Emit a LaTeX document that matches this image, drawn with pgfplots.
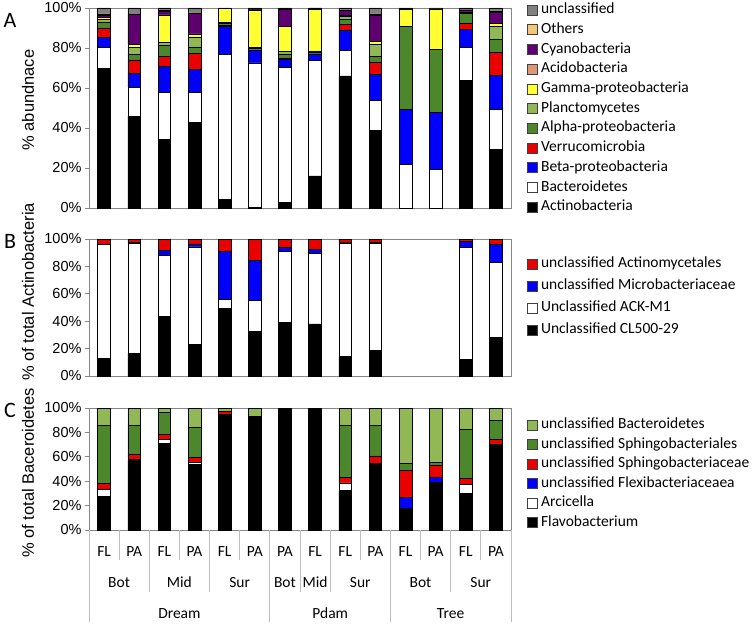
\documentclass[border=0pt]{standalone}
\usepackage{fontspec}
\setmainfont{Carlito}
\newfontfamily\arial{Liberation Sans}
\usepackage{pgfplots}
\pgfplotsset{compat=1.18}
\usepackage{pgfplotstable}

\definecolor{axgray}{RGB}{134,134,134}
\definecolor{sepgray}{RGB}{190,190,190}
\definecolor{cAct}{RGB}{0,0,0}
\definecolor{cBac}{RGB}{255,255,255}
\definecolor{cBeta}{RGB}{0,0,255}
\definecolor{cVer}{RGB}{235,0,0}
\definecolor{cAlp}{RGB}{77,135,43}
\definecolor{cPla}{RGB}{146,184,86}
\definecolor{cGam}{RGB}{255,255,51}
\definecolor{cAci}{RGB}{222,150,120}
\definecolor{cCya}{RGB}{96,0,112}
\definecolor{cOth}{RGB}{242,200,120}
\definecolor{cUnc}{RGB}{128,128,128}

\pgfplotstableread{
x Act Bac Beta Ver Alp Pla Gam Aci Cya Oth Unc
0 70 10.2 5 4.8 3 1.4 0.8 0.3 1 0.5 3
1 46 14.5 6.9 6.7 2.8 3.4 1.6 0 14.8 0 3.3
2 34.4 23.6 12.9 4.9 5.5 1.5 13.7 0 2 0.3 1.2
3 43 14.7 11.5 8.2 3.2 4.9 1.5 0 10.2 0.3 2.5
4 4.2 72.7 13.9 0.3 1.3 0.5 7 0 0 0 0.1
5 0.3 72.3 6.2 0 1.2 0.5 18.5 0 0.5 0 0.5
6 2.8 67.4 4.4 0.5 2 1.2 12.4 0 8.7 0 0.6
7 16.1 57.6 3.4 0 1 0.5 20.7 0 0.7 0 0
8 66.1 12.7 10.2 2.6 2.5 1.7 0.3 0 2.6 0 1.3
9 38.8 14.9 13.2 6.2 2.7 6.1 1.4 0 13.2 0.5 3
10 0 21.7 27.8 0 41.3 0 8.4 0 0.5 0 0.3
11 0 19.4 28.4 0 31.5 0 20.2 0 0.3 0 0.2
12 63.7 16.6 9 3 4.9 0.8 0 0 1 0 1
13 29.4 20.1 16.9 11.5 6.4 6.5 1.3 0 5.6 0.5 1.8
}\tabA

\pgfplotstableread{
x CL ACK Mic Actm
0 12.9 83 0.5 3.6
1 16.5 80.3 0.5 2.7
2 43.6 44.5 3.4 8.5
3 23.1 71.1 2.2 3.6
4 49.6 6.6 34.6 9.2
5 32.6 22.4 29.4 15.6
6 39.2 52 2.5 6.3
7 38.0 51.3 3.4 7.3
8 14.1 83 0.5 2.4
9 18.7 77.9 1.2 2.2
10 0 0 0 0
11 0 0 0 0
12 12.4 81.3 4.4 1.9
13 28.0 54.7 13.4 3.9
}\tabB

\pgfplotstableread{
x Flavo Arc Flex Sphc Sphl UnB
0 27.7 5.7 0.3 4.4 47.4 14.5
1 57.5 0.5 0 4.2 23.8 14
2 70.7 3.8 0 3.9 18.3 3.3
3 54.0 1.6 0 4.1 24.4 15.9
4 93.7 0.8 0 2.5 0.5 2.5
5 93.2 0 0 0 0 6.8
6 100 0 0 0 0 0
7 100 0 0 0 0 0
8 32.3 6.3 0 4.7 42.5 14.2
9 54.8 0 0 6 25 14.2
10 17.8 0 9 22 6 45.2
11 39.2 0 4.4 9.8 1.7 44.9
12 30.1 7.4 0 5 40.2 17.3
13 69.9 0 0 4.3 15.4 10.4
}\tabC

\pgfplotsset{
  panel/.style={
    scale only axis, width=422pt, anchor=south west,
    ybar stacked, bar width=12.7pt,
    xmin=-0.5, xmax=13.5, ymin=0, ymax=100,
    xtick=\empty, ytick={0,20,40,60,80,100},
    yticklabels={0\%,20\%,40\%,60\%,80\%,100\%},
    yticklabel style={font=\arial\fontsize{14.5}{16}\selectfont},
    tick align=outside, major tick length=4pt,
    axis line style={draw=axgray, line width=0.8pt},
    every tick/.style={draw=axgray, line width=0.8pt},
    ytick pos=left,
    legend style={draw=none, fill=none, inner sep=0pt, outer sep=0pt,
      anchor=north west, font=\fontsize{15.5}{18}\selectfont,
      /tikz/column sep=0pt},
    legend cell align=left,
    legend image code/.code={\draw[##1,draw=black!75,line width=0.6pt] (0pt,-5pt) rectangle (10pt,5pt);},
    reverse legend,
    every axis plot/.append style={draw=black, line width=0.6pt},
  },
}

\begin{document}
\begin{tikzpicture}
\useasboundingbox (0,0) rectangle (752pt,-626pt);

% ---------------- Panel A
\begin{axis}[panel, at={(89pt,-208pt)}, height=200pt,
  legend style={at={(1.0379,1.03925)},
    nodes={text height=11pt,text depth=3.5pt,inner ysep=2.6pt,inner xsep=3.5pt}}]
\addplot[fill=cAct] table[x=x,y=Act]{\tabA};
\addplot[fill=cBac] table[x=x,y=Bac]{\tabA};
\addplot[fill=cBeta] table[x=x,y=Beta]{\tabA};
\addplot[fill=cVer] table[x=x,y=Ver]{\tabA};
\addplot[fill=cAlp] table[x=x,y=Alp]{\tabA};
\addplot[fill=cPla] table[x=x,y=Pla]{\tabA};
\addplot[fill=cGam] table[x=x,y=Gam]{\tabA};
\addplot[fill=cAci] table[x=x,y=Aci]{\tabA};
\addplot[fill=cCya] table[x=x,y=Cya]{\tabA};
\addplot[fill=cOth] table[x=x,y=Oth]{\tabA};
\addplot[fill=cUnc] table[x=x,y=Unc]{\tabA};
\legend{Actinobacteria,Bacteroidetes,Beta-proteobacteria,Verrucomicrobia,Alpha-proteobacteria,Planctomycetes,Gamma-proteobacteria,Acidobacteria,Cyanobacteria,Others,unclassified}
\end{axis}

% ---------------- Panel B
\begin{axis}[panel, at={(89pt,-376pt)}, height=137pt,
  legend style={at={(1.0379,0.8978)},
    nodes={text height=11pt,text depth=3.5pt,inner ysep=3.75pt,inner xsep=3.5pt}}]
\addplot[fill=black] table[x=x,y=CL]{\tabB};
\addplot[fill=white] table[x=x,y=ACK]{\tabB};
\addplot[fill=cBeta] table[x=x,y=Mic]{\tabB};
\addplot[fill=cVer] table[x=x,y=Actm]{\tabB};
\legend{Unclassified CL500-29,Unclassified ACK-M1,unclassified Microbacteriaceae,unclassified Actinomycetales}
\end{axis}

% ---------------- Panel C
\begin{axis}[panel, at={(89pt,-530pt)}, height=122pt,
  xtick={0,1,...,13},
  xticklabels={FL,PA,FL,PA,FL,PA,PA,FL,FL,PA,FL,PA,FL,PA},
  xticklabel style={font=\fontsize{15.5}{18}\selectfont, anchor=base, yshift=-22pt},
  x tick style={draw=none},
  legend style={at={(1.0379,0.9406)},
    nodes={text height=11pt,text depth=3.5pt,inner ysep=2.5pt,inner xsep=3.5pt}}]
\addplot[fill=black] table[x=x,y=Flavo]{\tabC};
\addplot[fill=white] table[x=x,y=Arc]{\tabC};
\addplot[fill=cBeta] table[x=x,y=Flex]{\tabC};
\addplot[fill=cVer] table[x=x,y=Sphc]{\tabC};
\addplot[fill=cAlp] table[x=x,y=Sphl]{\tabC};
\addplot[fill=cPla] table[x=x,y=UnB]{\tabC};
\legend{Flavobacterium,Arcicella,unclassified Flexibacteriaceaea,unclassified Sphingobacteriaceae,unclassified Sphingobacteriales,unclassified Bacteroidetes}
\end{axis}

% ---------------- category separators
\foreach \k in {1,3,5,9,11,13} \draw[sepgray, line width=0.8pt] ({89pt+\k*30.143pt},-530pt) -- ++(0,-30pt);
\foreach \k in {2,4,7,8,12} \draw[sepgray, line width=0.8pt] ({89pt+\k*30.143pt},-530pt) -- ++(0,-62pt);
\foreach \k in {0,6,10,14} \draw[sepgray, line width=0.8pt] ({89pt+\k*30.143pt},-530pt) -- ++(0,-92pt);

\begin{scope}[every node/.style={font=\fontsize{15.5}{18}\selectfont, anchor=base}]
\node at (119.1pt,-587pt) {Bot};
\node at (179.4pt,-587pt) {Mid};
\node at (239.7pt,-587pt) {Sur};
\node at (284.9pt,-587pt) {Bot};
\node at (315.0pt,-587pt) {Mid};
\node at (360.3pt,-587pt) {Sur};
\node at (420.5pt,-587pt) {Bot};
\node at (480.8pt,-587pt) {Sur};
\node at (179.4pt,-618pt) {Dream};
\node at (330.2pt,-618pt) {Pdam};
\node at (450.6pt,-618pt) {Tree};
\end{scope}

% ---------------- y labels and panel letters
\begin{scope}[every node/.style={font=\arial\fontsize{16.5}{18}\selectfont, rotate=90}]
\node at (28pt,-100pt) {\% abundnace};
\node at (28pt,-292pt) {\% of total Actinobacteria};
\node at (28pt,-473pt) {\% of total Baceroidetes};
\end{scope}
\begin{scope}[every node/.style={font=\fontsize{22}{24}\selectfont}]
\node at (10pt,-20pt) {A};
\node at (10pt,-241pt) {B};
\node at (10pt,-410pt) {C};
\end{scope}
\end{tikzpicture}
\end{document}
